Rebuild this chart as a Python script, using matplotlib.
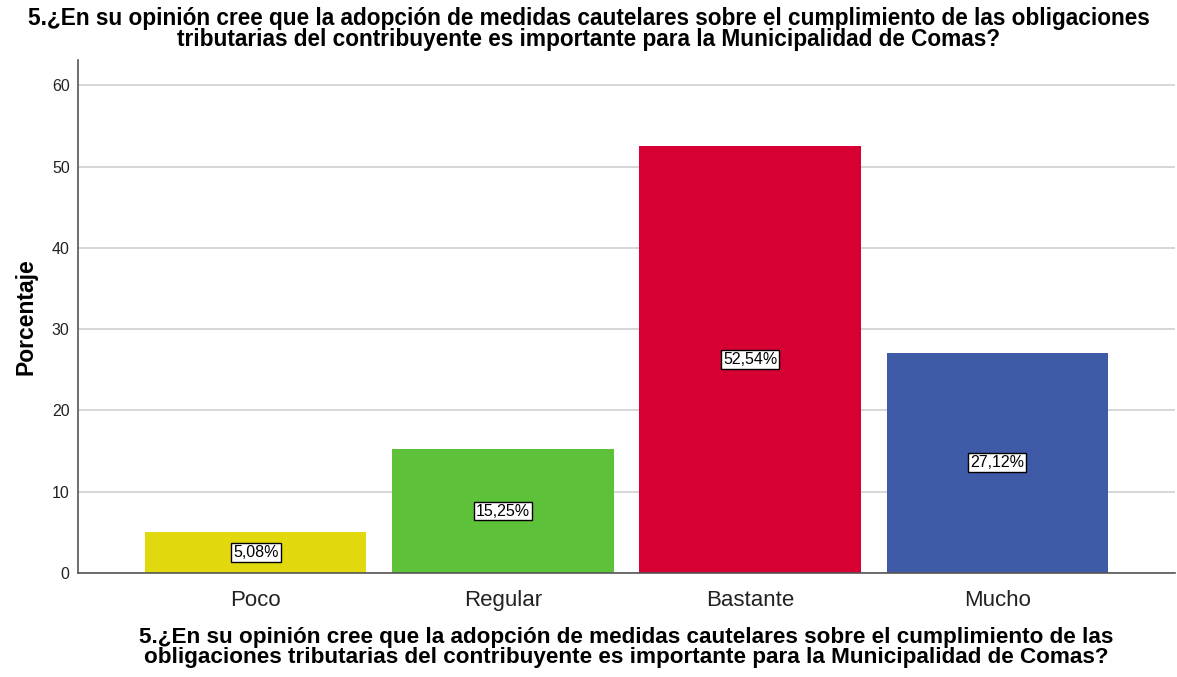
import matplotlib
matplotlib.use("Agg")
import matplotlib.pyplot as plt

plt.rcParams['font.family'] = ['Liberation Sans', 'DejaVu Sans']

categories = ["Poco", "Regular", "Bastante", "Mucho"]
percentages = [5.08, 15.25, 52.54, 27.12]
bar_labels = ["5,08%", "15,25%", "52,54%", "27,12%"]
colors = ["#E2D80E", "#5EC13A", "#D70032", "#3F5BA8"]
yticks = [0, 10, 20, 30, 40, 50, 60]

title = ("5.¿En su opinión cree que la adopción de medidas cautelares sobre el cumplimiento de las obligaciones\n"
         "tributarias del contribuyente es importante para la Municipalidad de Comas?")
xlabel = ("5.¿En su opinión cree que la adopción de medidas cautelares sobre el cumplimiento de las\n"
          "obligaciones tributarias del contribuyente es importante para la Municipalidad de Comas?")

fig = plt.figure(figsize=(11.77, 6.77), dpi=100)
ax = fig.add_axes([78 / 1177, 1 - 573 / 677, (1175 - 78) / 1177, (573 - 60) / 677])

x = range(len(categories))
ax.set_axisbelow(True)
ax.yaxis.grid(True, color="#d0d0d0", linewidth=1.2)
ax.bar(x, percentages, width=0.895, color=colors)

for xi, v, lab in zip(x, percentages, bar_labels):
    ax.text(xi, v / 2, lab, ha="center", va="center", fontsize=11.5,
            bbox=dict(boxstyle="square,pad=0.12", facecolor="white",
                      edgecolor="black", linewidth=1))

ax.set_xlim(-0.72, 3.72)
ax.set_ylim(0, 63.1)
ax.set_yticks(yticks)
ax.set_xticks(list(x))
ax.set_xticklabels(categories, fontsize=16)
ax.tick_params(axis="y", labelsize=11.5, length=0, pad=6, labelcolor="#222222")
ax.tick_params(axis="x", length=0, pad=12, labelcolor="#222222")

for s in ["top", "right"]:
    ax.spines[s].set_visible(False)
for s in ["left", "bottom"]:
    ax.spines[s].set_color("#555555")
    ax.spines[s].set_linewidth(1.2)

ax.set_ylabel("Porcentaje", fontsize=16.5, fontweight="bold", labelpad=10)
ax.set_xlabel(xlabel, fontsize=16.2, fontweight="bold", labelpad=12, linespacing=0.9)
fig.text(0.5, 1 - 29 / 677, title, ha="center", va="center", fontsize=16.3,
         fontweight="bold", linespacing=0.9)

fig.savefig("out.png", dpi=100)
